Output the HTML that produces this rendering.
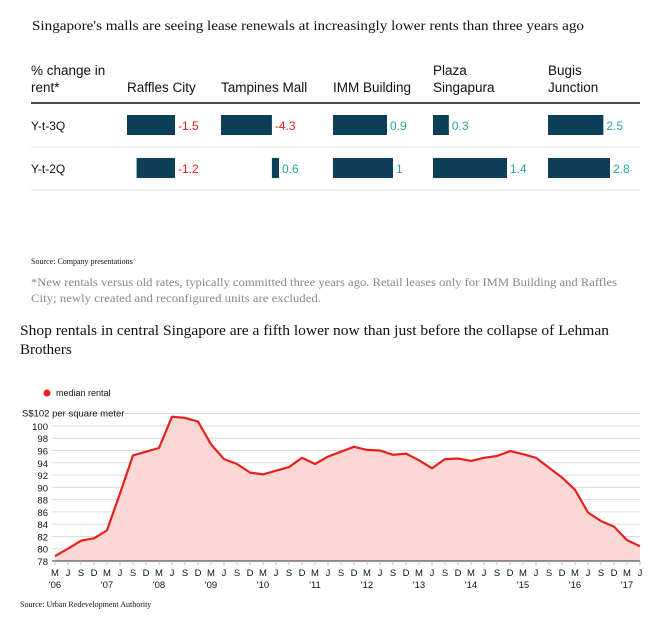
<!DOCTYPE html>
<html><head><meta charset="utf-8"><style>
html,body{margin:0;padding:0;background:#fff;width:671px;height:622px;overflow:hidden}
svg{display:block}
.serif{font-family:"Liberation Serif",serif}
.sans{font-family:"Liberation Sans",sans-serif}
</style></head><body>
<svg id="svg" width="671" height="622" viewBox="0 0 671 622" xmlns="http://www.w3.org/2000/svg">
<text class="serif" x="32" y="30" font-size="14" fill="#111" textLength="552" lengthAdjust="spacingAndGlyphs">Singapore's malls are seeing lease renewals at increasingly lower rents than three years ago</text>
<g class="sans" font-size="13.5" fill="#111">
<text x="31" y="75">% change in</text><text x="31" y="92">rent*</text>
<text x="127" y="92">Raffles City</text>
<text x="221" y="92">Tampines Mall</text>
<text x="333" y="92">IMM Building</text>
<text x="433" y="75">Plaza</text><text x="433" y="92">Singapura</text>
<text x="548" y="75">Bugis</text><text x="548" y="92">Junction</text>
</g>
<line x1="31" x2="640" y1="103" y2="103" stroke="#111" stroke-width="1.5"/>
<line x1="31" x2="640" y1="147" y2="147" stroke="#e6e6e6"/>
<line x1="31" x2="640" y1="190" y2="190" stroke="#e6e6e6"/>
<text class="sans" font-size="12" x="31" y="130" fill="#111">Y-t-3Q</text>
<text class="sans" font-size="12" x="31" y="173" fill="#111">Y-t-2Q</text>
<g id="tbl"></g>
<text class="serif" font-size="8" x="31" y="264" fill="#111">Source: Company presentations</text>
<text class="serif" font-size="12" x="31" y="286" fill="#888" textLength="586" lengthAdjust="spacingAndGlyphs">*New rentals versus old rates, typically committed three years ago. Retail leases only for IMM Building and Raffles</text>
<text class="serif" font-size="12" x="31" y="302" fill="#888" textLength="290" lengthAdjust="spacingAndGlyphs">City; newly created and reconfigured units are excluded.</text>
<text class="serif" font-size="15" x="20" y="335" fill="#111" textLength="589" lengthAdjust="spacingAndGlyphs">Shop rentals in central Singapore are a fifth lower now than just before the collapse of Lehman</text>
<text class="serif" font-size="15" x="20" y="354" fill="#111">Brothers</text>
<circle cx="47" cy="393" r="3.5" fill="#e8201c"/>
<text class="sans" font-size="9" x="56" y="396" fill="#111">median rental</text>
<g id="chart"></g>
<text class="serif" font-size="8" x="20" y="607" fill="#111">Source: Urban Redevelopment Authority</text>
</svg>
<script>
const malls = ["Raffles City","Tampines Mall","IMM Building","Plaza Singapura","Bugis Junction"];
const y3q = [-1.5,-4.3,0.9,0.3,2.5];
const y2q = [-1.2,0.6,1,1.4,2.8];
const rentValues = [78.8,80,81.3,81.7,83,89,95.2,95.8,96.4,101.5,101.3,100.7,97,94.6,93.8,92.4,92.1,92.7,93.3,94.8,93.8,95,95.8,96.6,96.1,96,95.3,95.5,94.4,93.1,94.6,94.7,94.3,94.8,95.1,95.9,95.4,94.8,93.2,91.6,89.6,85.9,84.5,83.6,81.4,80.4];
const yTicks = [78,80,82,84,86,88,90,92,94,96,98,100];
const quarterLabels = ["M","J","S","D"];
const yearLabels = ["'06","'07","'08","'09","'10","'11","'12","'13","'14","'15","'16","'17"];

const NS="http://www.w3.org/2000/svg";
function mk(tag,attrs,parent){const e=document.createElementNS(NS,tag);for(const k in attrs)e.setAttribute(k,attrs[k]);parent.appendChild(e);return e;}

const tbl=document.getElementById('tbl');
const colLeft=[127,221,333,433,548];
const colMaxW=[48,58,60,74,62];
[[y3q,115],[y2q,158]].forEach(([vals,top],ri)=>{
  vals.forEach((v,i)=>{
    const all=[y3q[i],y2q[i]];
    const neg=Math.min(0,...all), pos=Math.max(0,...all);
    const sc=colMaxW[i]/Math.max(pos-neg,0.0001);
    const zero=colLeft[i]+(-neg)*sc;
    const x0=v<0?zero+v*sc:zero, w=Math.max(Math.abs(v)*sc,2);
    const r=mk('rect',{x:x0,y:top,width:w,height:20,fill:'#0e3f58'},tbl);
    
    
    const t=mk('text',{x:Math.max(zero,x0+w)+3,y:top+15,'font-size':12,'font-family':'Liberation Sans, sans-serif',fill:v<0?'#e8201c':'#26a69a'},tbl);
    t.textContent=String(v);
    
    
  });
});

const ch=document.getElementById('chart');
const X0=55,X1=640,YB=561,Y78=78,PX=6.14;
const xs=i=>X0+i*(X1-X0)/(rentValues.length-1);
const ys=v=>YB-(v-Y78)*PX;
yTicks.forEach(v=>{
  const l=mk('line',{x1:52,x2:X1,y1:ys(v),y2:ys(v),stroke:'#dcdcdc','stroke-width':1},ch);
  
  
  const t=mk('text',{x:48,y:ys(v)+4,'text-anchor':'end','font-size':9.5,'font-family':'Liberation Sans, sans-serif',fill:'#111'},ch);
  t.textContent=v;
  
  
});
const gt=mk('line',{x1:52,x2:X1,y1:ys(102),y2:ys(102),stroke:'#dcdcdc'},ch);


const ul=mk('text',{x:22,y:ys(102)+3,'font-size':9.5,'font-family':'Liberation Sans, sans-serif',fill:'#111'},ch);
ul.textContent='S$102 per square meter';


let pts=rentValues.map((v,i)=>xs(i).toFixed(1)+','+ys(v).toFixed(1));
const area=mk('polygon',{points:X0+','+YB+' '+pts.join(' ')+' '+X1+','+YB,fill:'#fbd7d6'},ch);


const line=mk('polyline',{points:pts.join(' '),fill:'none',stroke:'#e8201c','stroke-width':2.2,'stroke-linejoin':'round'},ch);


const ax=mk('line',{x1:52,x2:X1,y1:YB,y2:YB,stroke:'#333'},ch);


rentValues.forEach((v,i)=>{
  const tk=mk('line',{x1:xs(i),x2:xs(i),y1:YB,y2:YB+4,stroke:'#bbb'},ch);
  
  
  const t=mk('text',{x:xs(i),y:YB+15,'text-anchor':'middle','font-size':9.5,'font-family':'Liberation Sans, sans-serif',fill:'#111'},ch);
  t.textContent=quarterLabels[i%4];
  
  
  if(i%4===0){
    const y=mk('text',{x:xs(i),y:YB+27,'text-anchor':'middle','font-size':9.5,'font-family':'Liberation Sans, sans-serif',fill:'#111'},ch);
    y.textContent=yearLabels[i/4];
    
    
  }
});
</script>
</body></html>
